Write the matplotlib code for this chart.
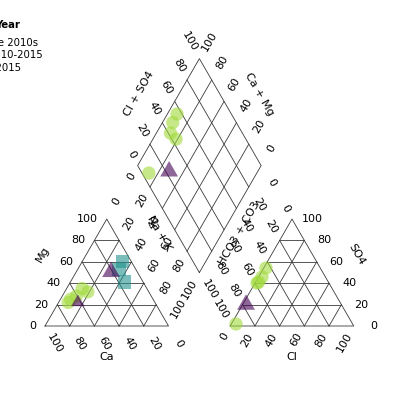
import numpy as np
import matplotlib
matplotlib.use("Agg")
import matplotlib.pyplot as plt

# ---------------- data (percent of meq) ----------------
legend_title = "Year"
group_labels = ["Pre 2010s", "2010-2015", ">2015"]

# group 1 (circles)
g1_ca = [70.2, 66.7, 60.6, 49.3, 52.4]
g1_mg = [22.0, 25.0, 28.0, 32.0, 35.0]
g1_nak = [7.8, 8.3, 11.4, 18.7, 12.6]
g1_cl = [1.8, 2.8, 1.6, 2.5, 3.7]
g1_so4 = [54.2, 45.8, 40.2, 41.0, 1.9]
g1_hco3 = [44.0, 51.4, 58.2, 56.5, 94.4]

# group 2 (squares) - anions not available
g2_ca = [7.0, 13.5, 15.0]
g2_mg = [60.0, 53.0, 41.0]
g2_nak = [33.0, 33.5, 44.0]
g2_cl = [np.nan, np.nan, np.nan]
g2_so4 = [np.nan, np.nan, np.nan]
g2_hco3 = [np.nan, np.nan, np.nan]

# group 3 (triangles)
g3_ca = [20.0, 61.4]
g3_mg = [53.0, 24.0]
g3_nak = [27.0, 14.6]
g3_cl = [1.6, np.nan]
g3_so4 = [22.4, np.nan]
g3_hco3 = [76.0, np.nan]

tick_values = [0, 20, 40, 60, 80, 100]

# ---------------- geometry ----------------
h = np.sqrt(3) / 2
off = 0.25
x0r = 1 + 2 * off          # right triangle origin
bx, by = 1 + off, off * np.tan(np.pi / 3)   # diamond bottom vertex

def left_xy(ca, mg, nak):
    ca, mg, nak = (np.asarray(v, float) / 100 for v in (ca, mg, nak))
    tot = ca + mg + nak
    return (nak + 0.5 * mg) / tot, h * mg / tot

def right_xy(cl, so4, hco3):
    cl, so4, hco3 = (np.asarray(v, float) / 100 for v in (cl, so4, hco3))
    tot = cl + so4 + hco3
    return x0r + (cl + 0.5 * so4) / tot, h * so4 / tot

def diamond_xy(ca, mg, nak, cl, so4, hco3):
    ca, mg, nak, cl, so4, hco3 = (np.asarray(v, float) / 100 for v in (ca, mg, nak, cl, so4, hco3))
    p = (cl + so4) / (cl + so4 + hco3)
    cm = (ca + mg) / (ca + mg + nak)
    return bx + 0.5 * (p - cm), by + h * (p + cm)

fig = plt.figure(figsize=(4, 4), dpi=100)
ax = fig.add_axes([0, 0, 1, 1])
ppu = 123.5
ax.set_xlim(-45 / ppu, 355 / ppu)
ax.set_ylim((326 - 400) / ppu, 326 / ppu)
ax.set_aspect("equal")
ax.axis("off")

lc = "#3a3a3a"
lw = 0.6

# outlines
ax.plot([0, 1, 0.5, 0], [0, 0, h, 0], color=lc, lw=lw)
ax.plot([x0r, x0r + 1, x0r + 0.5, x0r], [0, 0, h, 0], color=lc, lw=lw)
ax.plot([bx, bx + 0.5, bx, bx - 0.5, bx], [by, by + h, by + 2 * h, by + h, by], color=lc, lw=lw)

for t in [0.2, 0.4, 0.6, 0.8]:
    for X0 in (0, x0r):
        ax.plot([X0 + 0.5 * t, X0 + 1 - 0.5 * t], [t * h, t * h], color=lc, lw=lw)
        ax.plot([X0 + t, X0 + t + 0.5 * (1 - t)], [0, (1 - t) * h], color=lc, lw=lw)
        ax.plot([X0 + 1 - t, X0 + 0.5 * (1 - t)], [0, (1 - t) * h], color=lc, lw=lw)
    ax.plot([bx + 0.5 * t, bx + 0.5 * (t - 1)], [by + h * t, by + h * (t + 1)], color=lc, lw=lw)
    ax.plot([bx - 0.5 * t, bx + 0.5 * (1 - t)], [by + h * t, by + h * (1 + t)], color=lc, lw=lw)

fs = 8
c30, s30 = 0.5, np.sqrt(3) / 2

def ticklabel(x, y, d, txt, rot, mode):
    if mode == "center":
        dist = 20 / ppu
        ax.text(x + dist * d[0], y + dist * d[1], txt, rotation=rot,
                ha="center", va="center", fontsize=fs)
    else:
        dist = 9 / ppu
        ax.text(x + dist * d[0], y + dist * d[1], txt, rotation=rot,
                rotation_mode="anchor", ha="right", va="center", fontsize=fs)

for v in tick_values:
    t = v / 100
    lab = str(v)
    # left triangle
    ticklabel(0.5 * t, t * h, (-1, 0), lab, 0, "end")                     # Mg
    ticklabel(1 - t, 0, (c30, -s30), lab, -60, "center")                   # Ca
    ticklabel(0.5 + 0.5 * t, (1 - t) * h, (c30, s30), lab, 60, "center")   # Na+K
    # right triangle
    ticklabel(x0r + 1 - 0.5 * t, t * h, (1, 0), lab, 0, "center")          # SO4
    ticklabel(x0r + t, 0, (-c30, -s30), lab, 60, "end")                    # Cl
    ticklabel(x0r + 0.5 * (1 - t), (1 - t) * h, (-c30, s30), lab, -60, "end")  # HCO3
    # diamond
    ticklabel(bx + 0.5 * (t - 1), by + h * (t + 1), (-c30, s30), lab, -60, "end")
    ticklabel(bx + 0.5 * (1 - t), by + h * (1 + t), (c30, s30), lab, 60, "center")
    ticklabel(bx - 0.5 * (1 - t), by + h * (1 - t), (-c30, -s30), lab, 60, "end")
    ticklabel(bx + 0.5 * (1 - t), by + h * (1 - t), (c30, -s30), lab, -60, "center")

# axis titles
ax.text(-0.02, 0.58, "Mg", rotation=60, ha="center", va="center", fontsize=fs)
ax.text(0.50, -0.25, "Ca", ha="center", va="center", fontsize=fs)
ax.text(x0r + 1.02, 0.58, "SO4", rotation=-60, ha="center", va="center", fontsize=fs)
ax.text(x0r + 0.5, -0.25, "Cl", ha="center", va="center", fontsize=fs)
ax.text(bx - 0.327, 0.753, "Na + K", rotation=-60, ha="center", va="center", fontsize=fs)
ax.text(bx + 0.327, 0.753, "HCO3 + CO3", rotation=60, ha="center", va="center", fontsize=fs)
ax.text(bx - 0.486, 1.877, "Cl + SO4", rotation=60, ha="center", va="center", fontsize=fs)
ax.text(bx + 0.486, 1.877, "Ca + Mg", rotation=-60, ha="center", va="center", fontsize=fs)

# samples
tri = [(0, 0.866), (-1, -0.866), (1, -0.866)]
groups = [
    (g1_ca, g1_mg, g1_nak, g1_cl, g1_so4, g1_hco3, "o", "#a0da39", [92] * 5),
    (g2_ca, g2_mg, g2_nak, g2_cl, g2_so4, g2_hco3, "s", "#21918c", [92] * 3),
    (g3_ca, g3_mg, g3_nak, g3_cl, g3_so4, g3_hco3, tri, "#440154", [165, 95]),
]
for ca, mg, nak, cl, so4, hco3, mk, col, sz in groups:
    for fxy in (left_xy(ca, mg, nak), right_xy(cl, so4, hco3),
                diamond_xy(ca, mg, nak, cl, so4, hco3)):
        ax.scatter(fxy[0], fxy[1], marker=mk, s=sz, color=col, alpha=0.6,
                   linewidths=0, zorder=5)

# legend (partly outside the canvas on the left)
W = H = 400.0
fig.text(-4.9 / W, 1 - 25.3 / H, legend_title, fontsize=7.3, fontweight="bold",
         ha="left", va="center")
for lab, yy in zip(group_labels, [42.5, 55.3, 68.0]):
    fig.text(-11.7 / W, 1 - yy / H, lab, fontsize=7.3, ha="left", va="center")

fig.savefig("out.png", dpi=100)
